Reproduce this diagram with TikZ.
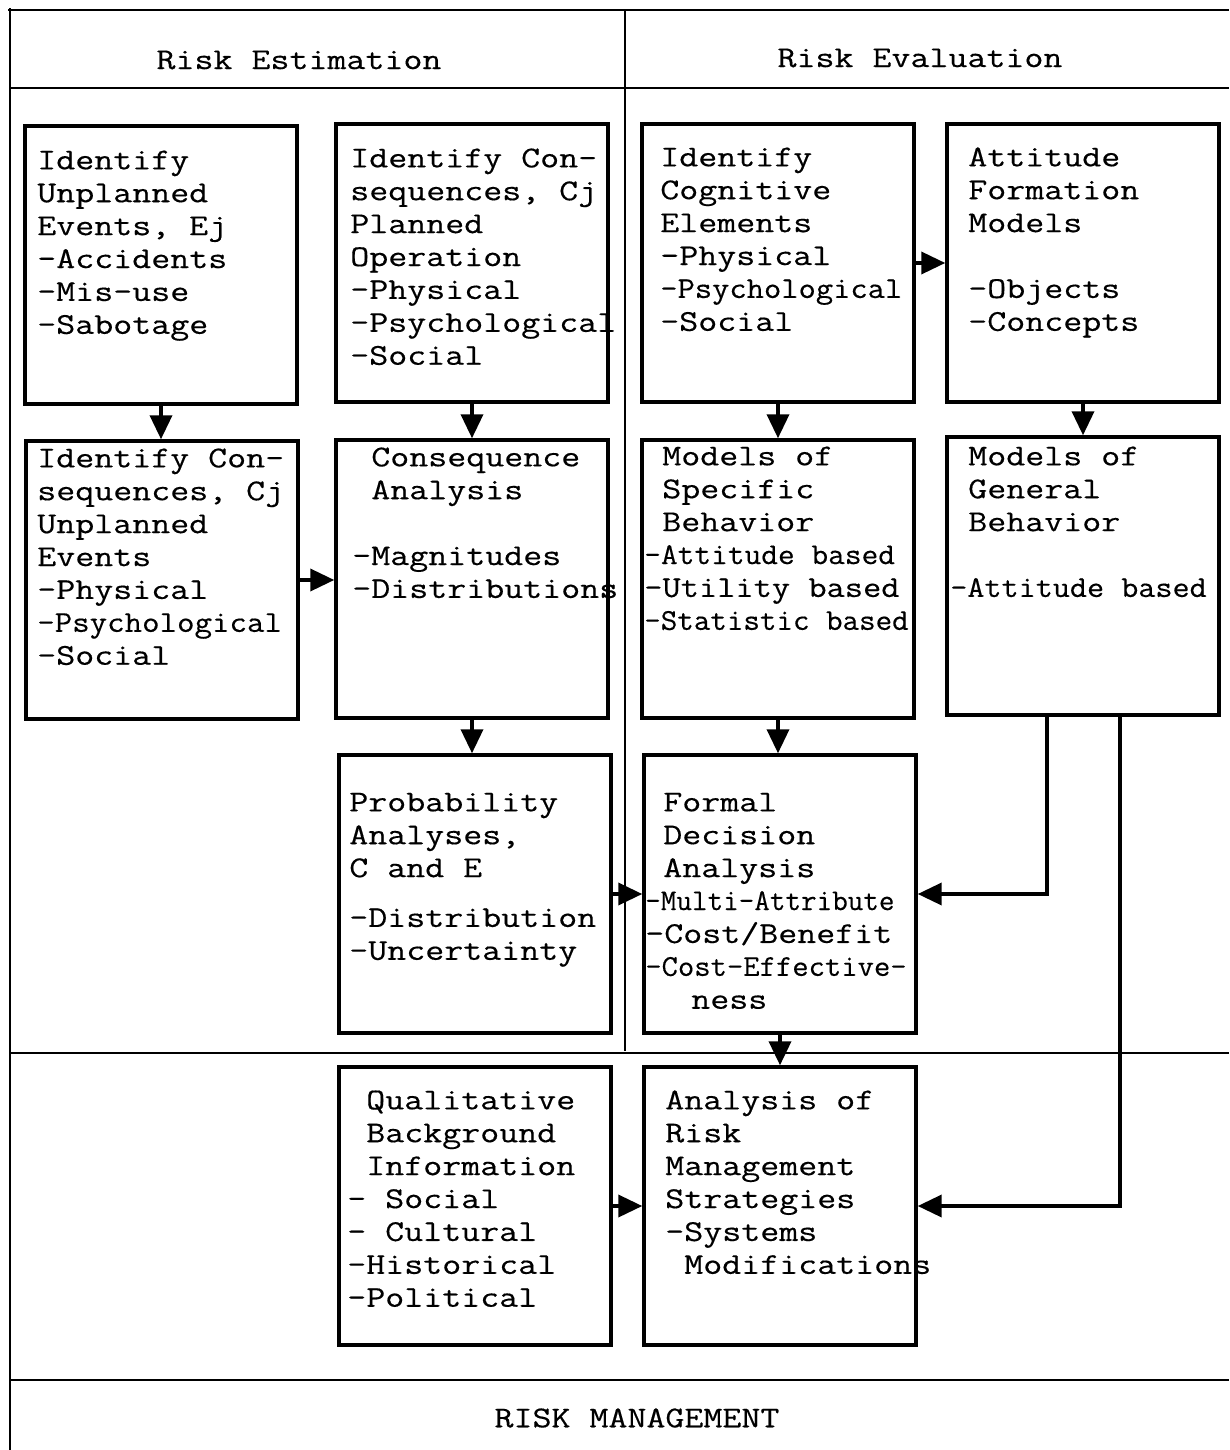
\documentclass[tikz,border=0pt]{standalone}
\usepackage{fontspec}
\setmonofont[FakeStretch=1.22,FakeBold=0.4]{Latin Modern Mono}
\usetikzlibrary{arrows.meta}
\tikzset{
  box/.style={draw, line width=2.4pt, minimum width=6.8cm, minimum height=6.95cm, inner sep=0pt},
  txt/.style={anchor=north west, align=left, inner sep=0pt, font=\fontsize{21.5}{23.4}\selectfont\ttfamily},
  head/.style={inner sep=0pt, font=\fontsize{21.5}{23.4}\selectfont\ttfamily},
  arr/.style={line width=2.6pt, -{Triangle[length=0.6cm,width=0.55cm]}},
  frame/.style={line width=1.6pt}
}
\newcommand\out{\hspace*{-0.45cm}}
\newcommand\sq[2]{\scalebox{#1}[1]{#2}}
\begin{document}
\begin{tikzpicture}[x=0.025cm, y=-0.025cm]
      \useasboundingbox (0,0) rectangle (1229,1450);
      \draw[frame] (8,10) -- (1229,10);
      \draw[frame] (10,8) -- (10,1450);
      \draw[frame] (10,88) -- (1229,88);
      \draw[frame] (625,10) -- (625,1051);
      \draw[frame] (10,1053) -- (1229,1053);
      \draw[frame] (10,1380) -- (1229,1380);
      \node[head] (est) at (299,60) {Risk Estimation};
      \node[head] (eva) at (920,58) {Risk Evaluation};
      \node[head] (man) at (637,1418) {RISK MANAGEMENT};
      \path
        (161,265) node[box] (A){}
        (162,580) node[box] (B){}
        (472,263) node[box] (C){}
        (472,579) node[box] (D){}
        (475,894) node[box] (E){}
        (475,1206) node[box] (Q){}
        (778,263) node[box] (F){}
        (778,579) node[box] (G){}
        (780,894) node[box] (H){}
        (780,1206) node[box] (R){}
        (1083,263) node[box] (I){}
        (1083,576) node[box] (J){};
      \node[txt] (At) at (37,146) {\strut Identify\\Unplanned\\Events, Ej\\-Accidents\\-Mis-use\\-Sabotage};
      \node[txt] (Bt) at (37,444) {\strut Identify Con-\\sequences, Cj\\Unplanned\\Events\\-Physical\\\sq{0.92}{-Psychological}\\-Social};
      \node[txt] (Ct) at (350,144) {\strut Identify Con-\\sequences, Cj\\Planned\\Operation\\-Physical\\-Psychological\\-Social};
      \node[txt] (Dt) at (352,443) {\strut\phantom{-}Consequence\\\phantom{-}Analysis\\[23.4pt]-Magnitudes\\-Distributions};
      \node[txt] (Et) at (349,788) {\strut Probability\\Analyses,\\C and E\\[12pt]-Distribution\\-Uncertainty};
      \node[txt] (Qt) at (347,1086) {\strut\phantom{-}Qualitative\\\phantom{-}Background\\\phantom{-}Information\\- Social\\- Cultural\\-Historical\\-Political};
      \node[txt] (Ft) at (660,143) {\strut Identify\\Cognitive\\Elements\\-Physical\\\sq{0.91}{-Psychological}\\-Social};
      \node[txt] (It) at (968,143) {\strut Attitude\\Formation\\Models\\[23.4pt]-Objects\\-Concepts};
      \node[txt] (Gt) at (662,442) {\strut Models of\\Specific\\Behavior\\\out\sq{0.88}{-Attitude based}\\\out\sq{0.96}{-Utility based}\\\out\sq{0.87}{-Statistic based}};
      \node[txt] (Jt) at (968,442) {\strut Models of\\General\\Behavior\\[23.4pt]\out\sq{0.9}{-Attitude based}};
      \node[txt] (Ht) at (663,788) {\strut Formal\\Decision\\Analysis\\\out\sq{0.82}{-Multi-Attribute}\\\out-Cost/Benefit\\\out\sq{0.86}{-Cost-Effective-}\\\hspace*{0.7cm}ness};
      \node[txt] (Rt) at (665,1086) {\strut Analysis of\\Risk\\Management\\Strategies\\-Systems\\\phantom{-}Modifications};
      \begin{scope}[arr]
        \draw (A.south) -- (A.south |- B.north);
        \draw (C.south) -- (C.south |- D.north);
        \draw (D.south) -- (D.south |- E.north);
        \draw (F.south) -- (F.south |- G.north);
        \draw (G.south) -- (G.south |- H.north);
        \draw (H.south) -- (H.south |- R.north);
        \draw (I.south) -- (I.south |- J.north);
        \draw (B.east) -- (B.east -| D.west);
        \draw (F.east) -- (F.east -| I.west);
        \draw (E.east) -- (E.east -| H.west);
        \draw (Q.east) -- (Q.east -| R.west);
        \draw ([xshift=-0.9cm]J.south) |- (H.east);
        \draw ([xshift=0.925cm]J.south) |- (R.east);
      \end{scope}
    \end{tikzpicture}
\end{document}
